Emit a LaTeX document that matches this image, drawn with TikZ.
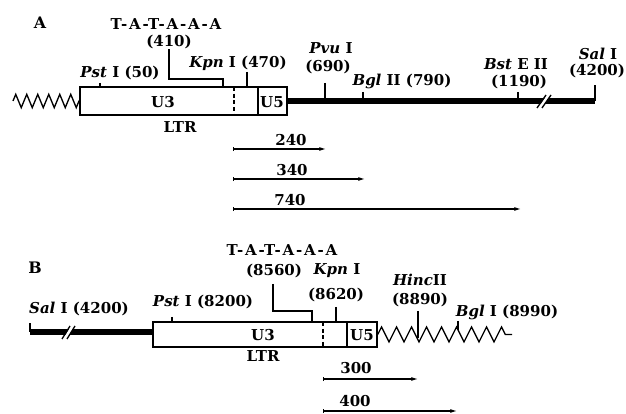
\documentclass[tikz,border=0pt]{standalone}
\usepackage{fontspec}
\setmainfont{DejaVu Serif}
\usetikzlibrary{arrows.meta, decorations.pathmorphing}
\tikzset{
  site/.style={font=\fontsize{9pt}{11pt}\selectfont\bfseries, inner sep=0pt, align=center},
  panel/.style={font=\fontsize{9.5pt}{11pt}\selectfont\bfseries, inner sep=0pt},
  tatabox/.style={font=\fontsize{9pt}{11pt}\selectfont\bfseries\addfontfeatures{LetterSpace=12}, inner sep=0pt},
  ltrbox/.style={rectangle, draw, line width=0.9pt, inner sep=0pt, fill=white},
  tick/.style={line width=0.8pt},
  vector/.style={line width=3.3pt},
  flank/.style={line width=0.8pt, decorate, decoration={zigzag, segment length=#1, amplitude=3.8pt}},
  flank/.default=6.6pt,
  frag/.style={{Bar[width=2.6pt]}-{Latex[length=4pt, width=2.4pt]}, line width=0.7pt},
}

\begin{document}
\begin{tikzpicture}[x=0.6pt, y=-0.6pt]
  \useasboundingbox (0,0) rectangle (626,414);

  % ---- A: 5' end ----
  \node[panel] (labA) at (40,23) {A};
  \node[ltrbox, minimum width=124.2pt, minimum height=16.8pt] (ltrA) at (183.5,101) {};
  \draw[dashed, dash pattern=on 2.4pt off 1.6pt, line width=0.8pt] (234,87) -- (234,115);
  \draw[line width=0.8pt] (258,87) -- (258,115);
  \node[site] (u3A) at (163,102) {U3};
  \node[site] (u5A) at (272,102) {U5};
  \node[site] (ltrlabA) at (180,127) {LTR};
  \coordinate (salA) at (595,101);
  \draw[flank, decoration={amplitude=4pt}] (13,101) -- (ltrA.west);
  \draw[vector] (ltrA.east) -- (salA);
  \fill[white] (538,108) -- (547,95) -- (551,95) -- (542,108) -- cycle;
  \draw[tick] (537,108) -- (546,95) (542,108) -- (551,95);

  \node[tatabox] (tataA) at (166,24) {T-A-T-A-A-A};
  \node[site] (n410) at (169,42) {(410)};
  \node[site] (pstA) at (120,73) {\textit{Pst} I (50)};
  \node[site] (kpnA) at (238,63) {\textit{Kpn} I (470)};
  \node[site] (pvuA) at (331,48) {\textit{Pvu} I};
  \node[site] (n690) at (328,67) {(690)};
  \node[site] (bglA) at (402,81) {\textit{Bgl} II (790)};
  \node[site] (bstA) at (516,64) {\textit{Bst} E II};
  \node[site] (n1190) at (519,82) {(1190)};
  \node[site] (salAlab) at (598,54) {\textit{Sal} I};
  \node[site] (n4200) at (597,71) {(4200)};

  \draw[tick] (n410.south) |- (223,79) -- (223,87);
  \draw[tick] (100,83) -- (100,87);
  \draw[tick] (247,72) -- (247,87);
  \draw[tick] (325,83) -- (325,101);
  \draw[tick] (363,92) -- (363,101);
  \draw[tick] (518,92) -- (518,101);
  \draw[tick] (salA) -- ++(0,-16);

  \draw[frag] (233,149) -- (326,149);
  \draw[frag] (233,179) -- (365,179);
  \draw[frag] (233,209) -- (521,209);
  \node[site] (f240) at (291,140) {240};
  \node[site] (f340) at (292,170) {340};
  \node[site] (f740) at (290,200) {740};

  % ---- B: 3' end ----
  \node[panel] (labB) at (35,268) {B};
  \node[ltrbox, minimum width=134.4pt, minimum height=15pt] (ltrB) at (265,334.5) {};
  \draw[dashed, dash pattern=on 2.4pt off 1.6pt, line width=0.8pt] (323,322) -- (323,347);
  \draw[line width=0.8pt] (347,322) -- (347,347);
  \node[site] (u3B) at (263,335) {U3};
  \node[site] (u5B) at (362,335) {U5};
  \node[site] (ltrlabB) at (263,356) {LTR};
  \coordinate (salB) at (30,332);
  \draw[vector] (salB) -- (salB -| ltrB.west);
  \draw[flank=9pt, decoration={amplitude=4.5pt}] (ltrB.east) -- (512,334.5);
  \fill[white] (63,339) -- (71,326) -- (75,326) -- (67,339) -- cycle;
  \draw[tick] (62,339) -- (70,326) (67,339) -- (75,326);

  \node[site] (salBlab) at (79,309) {\textit{Sal} I (4200)};
  \node[site] (pstB) at (203,302) {\textit{Pst} I (8200)};
  \node[tatabox] (tataB) at (282,250) {T-A-T-A-A-A};
  \node[site] (n8560) at (274,271) {(8560)};
  \node[site] (kpnB) at (337,271) {\textit{Kpn} I};
  \node[site] (n8620) at (336,295) {(8620)};
  \node[site] (hincB) at (420,280) {\textit{Hinc}II};
  \node[site] (n8890) at (420,300) {(8890)};
  \node[site] (bglB) at (507,312) {\textit{Bgl} I (8990)};

  \draw[tick] (salB) -- ++(0,-9);
  \draw[tick] (172,317) -- (172,322);
  \draw[tick] (273,284) |- (312,311) -- (312,322);
  \draw[tick] (336,307) -- (336,322);
  \draw[tick] (418,311) -- (418,338);
  \draw[tick] (458,321) -- (458,330);

  \draw[frag] (323,379) -- (418,379);
  \draw[frag] (323,411) -- (457,411);
  \node[site] (f300) at (356,368) {300};
  \node[site] (f400) at (355,401) {400};
\end{tikzpicture}
\end{document}
